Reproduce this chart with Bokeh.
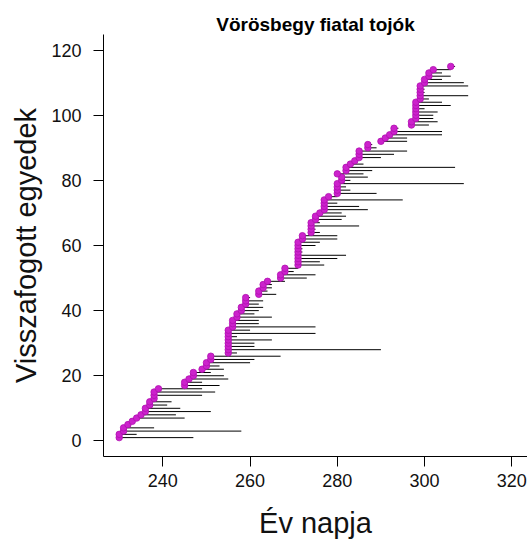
from bokeh.plotting import figure
from bokeh.models import Range1d, FixedTicker
from bokeh.embed import file_html
from bokeh.resources import INLINE

# first capture day of each recaptured individual (ordered)
first_day = [
    230, 230, 231, 231, 232, 233, 234, 235, 236, 236,
    237, 237, 238, 238, 238, 239, 245, 245, 246, 247,
    247, 249, 250, 250, 251, 251, 255, 255, 255, 255,
    255, 255, 255, 255, 256, 256, 256, 257, 257, 258,
    258, 259, 259, 259, 262, 262, 263, 263, 264, 267,
    267, 268, 268, 271, 271, 271, 271, 271, 271, 271,
    271, 272, 272, 274, 274, 274, 274, 275, 275, 276,
    277, 277, 277, 277, 278, 280, 280, 280, 280, 281,
    281, 280, 282, 282, 283, 284, 285, 285, 285, 287,
    287, 290, 291, 292, 293, 293, 297, 297, 298, 298,
    298, 298, 298, 298, 299, 299, 299, 299, 299, 300,
    300, 301, 301, 302, 306,
]
# last recapture day of each individual
last_day = [
    247, 234, 258, 238, 232, 233, 245, 243, 251, 244,
    241, 242, 238, 249, 252, 249, 253, 249, 255, 254,
    251, 254, 253, 260, 261, 267, 257, 290, 261, 261,
    265, 257, 275, 260, 275, 262, 262, 265, 261, 262,
    263, 262, 263, 260, 266, 264, 265, 265, 268, 273,
    275, 270, 271, 277, 276, 280, 282, 272, 272, 275,
    276, 280, 280, 276, 275, 285, 276, 281, 282, 281,
    287, 285, 280, 295, 280, 289, 283, 282, 309, 283,
    287, 286, 288, 307, 286, 284, 290, 293, 296, 289,
    288, 296, 296, 304, 304, 294, 301, 303, 302, 302,
    303, 300, 306, 304, 301, 310, 300, 300, 310, 309,
    304, 306, 304, 306, 307,
]
individual = list(range(1, len(first_day) + 1))

x_ticks = [240, 260, 280, 300, 320]
y_ticks = [0, 20, 40, 60, 80, 100, 120]

title_text = "Vörösbegy fiatal tojók"
x_label = "Év napja"
y_label = "Visszafogott egyedek"

p = figure(width=527, height=552, output_backend="svg", toolbar_location=None,
           x_range=Range1d(226.4, 323.6), y_range=Range1d(-4.8, 124.8),
           min_border_left=103, min_border_right=0, min_border_top=34,
           min_border_bottom=96, title=title_text)

p.title.align = "center"
p.title.text_font = "Liberation Sans"
p.title.text_font_size = "19px"
p.title.text_font_style = "bold"
p.title.text_color = "black"
p.title.standoff = 0
p.title.offset = 0

p.outline_line_color = None
p.xgrid.grid_line_color = None
p.ygrid.grid_line_color = None
p.background_fill_color = "white"
p.border_fill_color = "white"

p.segment(x0=first_day, y0=individual, x1=last_day, y1=individual,
          line_color="black", line_width=1)
p.scatter(x=first_day, y=individual, size=6.5, fill_color="#CC22CC",
          line_color="#B010B0", line_width=0.8)

for ax, ticks in ((p.xaxis[0], x_ticks), (p.yaxis[0], y_ticks)):
    ax.ticker = FixedTicker(ticks=ticks)
    ax.minor_tick_line_color = None
    ax.major_tick_in = 0
    ax.major_tick_out = 10
    ax.axis_line_color = "black"
    ax.major_tick_line_color = "black"
    ax.major_label_text_font = "Liberation Sans"
    ax.major_label_text_font_size = "18px"
    ax.major_label_text_color = "#111111"
    ax.axis_label_text_font = "Liberation Sans"
    ax.axis_label_text_font_size = "29px"
    ax.axis_label_text_font_style = "normal"
    ax.axis_label_text_color = "#111111"

p.xaxis.axis_label = x_label
p.yaxis.axis_label = y_label
p.xaxis.major_label_standoff = 7
p.yaxis.major_label_standoff = 12
p.xaxis.axis_label_standoff = 17
p.yaxis.axis_label_standoff = 6

open("out.html", "w").write(file_html(p, INLINE))
